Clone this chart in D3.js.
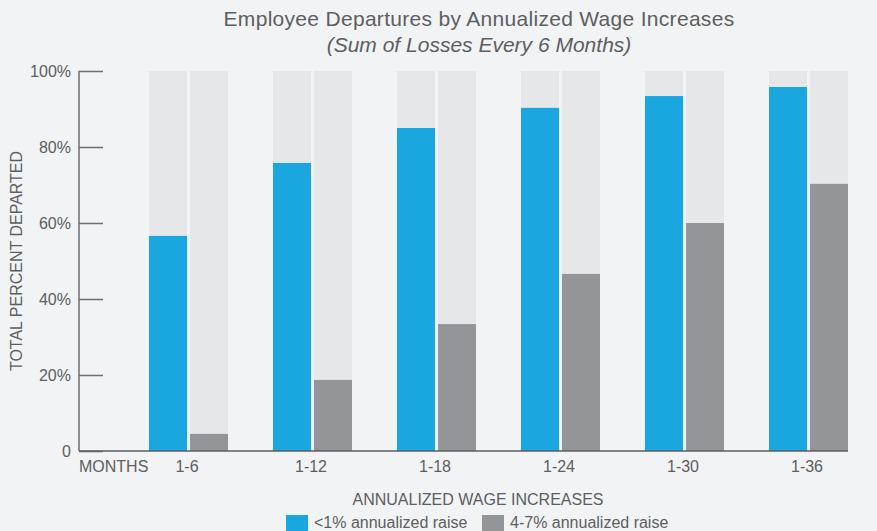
<!DOCTYPE html>
<html>
<head>
<meta charset="utf-8">
<script src="https://cdn.jsdelivr.net/npm/d3@7"></script>
<style>
  body { margin: 0; background: #f2f3f5; }
  svg { display: block; font-family: "Liberation Sans", Arial, sans-serif; }
  text { fill: #5d5e60; }
</style>
</head>
<body>
<svg width="877" height="531"></svg>
<script>
var categories = ["1-6", "1-12", "1-18", "1-24", "1-30", "1-36"],
    lowRaise = [56.6, 75.8, 85, 90.3, 93.4, 95.8],
    highRaise = [4.5, 18.7, 33.4, 46.6, 60, 70.3],
    yTicks = [0, 20, 40, 60, 80, 100],
    seriesNames = ["<1% annualized raise", "4-7% annualized raise"],
    colors = ["#1aa6de", "#939598"];

var svg = d3.select("svg"),
    margin = {top: 71, left: 79, bottom: 80},
    height = 531 - margin.top - margin.bottom;

var y = d3.scaleLinear()
    .domain([0, 100])
    .range([height, 0]);

// groups start at 149, spaced 124
var x0 = d3.scalePoint()
    .domain(categories)
    .range([149, 149 + 124 * 5]);

var barW = 38, gap = 3;

var g = svg.append("g").attr("transform", "translate(0," + margin.top + ")");

// title
svg.append("text")
    .attr("x", 479).attr("y", 26)
    .attr("text-anchor", "middle")
    .style("font-size", "21px")
    .style("letter-spacing", "0.3px")
    .text("Employee Departures by Annualized Wage Increases");
svg.append("text")
    .attr("x", 479).attr("y", 52)
    .attr("text-anchor", "middle")
    .style("font-size", "21px")
    .style("font-style", "italic")
    .text("(Sum of Losses Every 6 Months)");

// bars
var rows = categories.map(function(c, i) { return {cat: c, vals: [lowRaise[i], highRaise[i]]}; });

var grp = g.selectAll(".grp")
    .data(rows)
  .enter().append("g")
    .attr("class", "grp")
    .attr("transform", function(d) { return "translate(" + x0(d.cat) + ",0)"; });

grp.selectAll(".bg")
    .data(function(d) { return d.vals; })
  .enter().append("rect")
    .attr("class", "bg")
    .attr("x", function(d, i) { return i * (barW + gap); })
    .attr("y", y(100))
    .attr("width", barW)
    .attr("height", y(0) - y(100))
    .attr("fill", "#e6e7e9");

grp.selectAll(".bar")
    .data(function(d) { return d.vals; })
  .enter().append("rect")
    .attr("class", "bar")
    .attr("x", function(d, i) { return i * (barW + gap); })
    .attr("y", function(d) { return y(d); })
    .attr("width", barW)
    .attr("height", function(d) { return y(0) - y(d); })
    .attr("fill", function(d, i) { return colors[i]; });

// y axis
var yAxis = g.append("g")
    .attr("transform", "translate(" + margin.left + ",0)")
    .call(d3.axisRight(y)
        .tickValues(yTicks)
        .tickSize(24)
        .tickFormat(function(d) { return d === 0 ? "0" : d + "%"; }));
yAxis.select(".domain").remove();
yAxis.selectAll(".tick line").attr("stroke", "#6d6e70").attr("stroke-width", 1.5);
yAxis.selectAll(".tick text")
    .attr("x", -8)
    .attr("text-anchor", "end")
    .style("font-size", "16px")
    .style("fill", "#5d5e60");

g.append("line")
    .attr("x1", margin.left).attr("x2", margin.left)
    .attr("y1", y(100)).attr("y2", y(0))
    .attr("stroke", "#6d6e70").attr("stroke-width", 1.5);
g.append("line")
    .attr("x1", margin.left).attr("x2", x0("1-36") + 2 * barW + gap)
    .attr("y1", y(0)).attr("y2", y(0))
    .attr("stroke", "#5d5e60").attr("stroke-width", 1.5);

// x labels
g.append("text")
    .attr("x", margin.left).attr("y", y(0) + 21)
    .style("font-size", "16px")
    .text("MONTHS");
g.selectAll(".xlab")
    .data(categories)
  .enter().append("text")
    .attr("class", "xlab")
    .attr("x", function(d) { return x0(d) + barW; })
    .attr("y", y(0) + 21)
    .attr("text-anchor", "middle")
    .style("font-size", "16px")
    .text(function(d) { return d; });

// axis titles
svg.append("text")
    .attr("transform", "translate(22," + (margin.top + height / 2) + ") rotate(-90)")
    .attr("text-anchor", "middle")
    .style("font-size", "16px")
    .text("TOTAL PERCENT DEPARTED");
svg.append("text")
    .attr("x", 478).attr("y", 505)
    .attr("text-anchor", "middle")
    .style("font-size", "16px")
    .text("ANNUALIZED WAGE INCREASES");

// legend
var legX = [286, 482];
var leg = svg.selectAll(".leg")
    .data(seriesNames)
  .enter().append("g")
    .attr("class", "leg")
    .attr("transform", function(d, i) { return "translate(" + legX[i] + ",515)"; });
leg.append("rect")
    .attr("width", 22).attr("height", 16)
    .attr("fill", function(d, i) { return colors[i]; });
leg.append("text")
    .attr("x", 28).attr("y", 13)
    .style("font-size", "16px")
    .text(function(d) { return d; });
</script>
</body>
</html>
